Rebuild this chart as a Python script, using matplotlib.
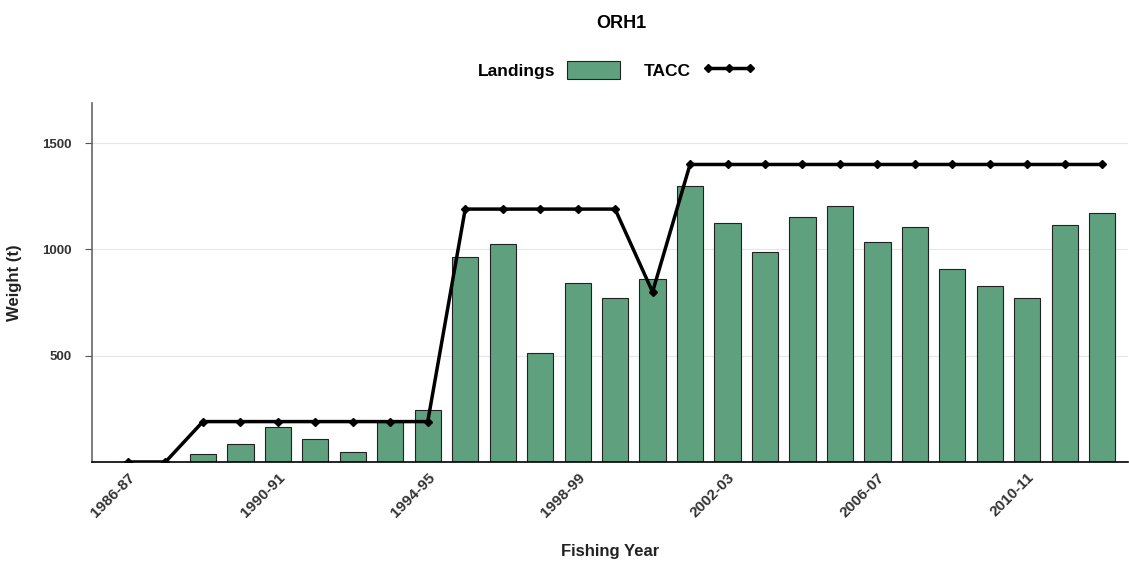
import matplotlib
matplotlib.use("Agg")
import matplotlib.pyplot as plt
from matplotlib.patches import Patch
from matplotlib.lines import Line2D

plt.rcParams['font.family'] = ['Liberation Sans', 'DejaVu Sans']

years = ["1986-87", "1987-88", "1988-89", "1989-90", "1990-91", "1991-92", "1992-93",
         "1993-94", "1994-95", "1995-96", "1996-97", "1997-98", "1998-99", "1999-00",
         "2000-01", "2001-02", "2002-03", "2003-04", "2004-05", "2005-06", "2006-07",
         "2007-08", "2008-09", "2009-10", "2010-11", "2011-12", "2012-13"]
landings = [0, 0, 38, 85, 165, 108, 47, 188, 245, 964, 1025, 513, 842, 771, 861,
            1298, 1124, 988, 1152, 1204, 1035, 1105, 908, 828, 771, 1115, 1171]
tacc = [0, 0, 190, 190, 190, 190, 190, 190, 190, 1190, 1190, 1190, 1190, 1190, 800,
        1400, 1400, 1400, 1400, 1400, 1400, 1400, 1400, 1400, 1400, 1400, 1400]
tick_labels = ["1986-87", "1990-91", "1994-95", "1998-99", "2002-03", "2006-07", "2010-11"]

bar_color = "#5fa07f"

fig = plt.figure(figsize=(11.29, 5.62), dpi=100)
ax = fig.add_axes([0.0815, 0.178, 0.918, 0.639])

x = list(range(len(years)))
ax.bar(x, landings, width=0.7, color=bar_color, edgecolor="#222222", linewidth=0.8, zorder=2)
ax.plot(x, tacc, color="black", linewidth=2.5, marker="D", markersize=4, zorder=3)

ax.set_xlim(-0.96, 26.7)
ax.set_ylim(0, 1690)
ax.set_yticks([500, 1000, 1500])
ax.yaxis.grid(True, color="#e6e6e6", linewidth=0.8, zorder=0)
ax.set_axisbelow(True)

ax.set_xticks([years.index(t) for t in tick_labels])
ax.set_xticklabels(tick_labels, rotation=45, ha="right", rotation_mode="anchor",
                   fontsize=11, fontweight="bold", color="#333333")
ax.tick_params(axis="x", length=0, pad=6)
ax.tick_params(axis="y", length=5, color="#555555", labelsize=9.5, labelcolor="#333333", pad=10)
for lab in ax.get_yticklabels():
    lab.set_fontweight("bold")

for s in ["top", "right"]:
    ax.spines[s].set_visible(False)
ax.spines["left"].set_color("#666666")
ax.spines["left"].set_linewidth(1.2)
ax.spines["bottom"].set_color("black")
ax.spines["bottom"].set_linewidth(1.2)

ax.set_ylabel("Weight (t)", fontsize=12, fontweight="bold", color="#222222")
ax.yaxis.set_label_coords(-0.068, 0.5)
ax.set_xlabel("Fishing Year", fontsize=12, fontweight="bold", color="#222222")
ax.xaxis.set_label_coords(0.5, -0.228)

fig.text(0.55, 0.958, "ORH1", ha="center", va="center", fontsize=13, fontweight="bold")

handles = [Patch(facecolor=bar_color, edgecolor="#222222", linewidth=0.8),
           Line2D([0], [0], color="black", linewidth=2.5, marker="D", markersize=4)]
leg = fig.legend(handles, ["Landings", "TACC"], loc="center", bbox_to_anchor=(0.546, 0.876),
                 ncol=2, frameon=False, markerfirst=False, fontsize=12.5, numpoints=3,
                 handlelength=3.0, handleheight=1.2, columnspacing=1.4, handletextpad=0.7)
for t in leg.get_texts():
    t.set_fontweight("bold")

fig.savefig("out.png", dpi=100)
